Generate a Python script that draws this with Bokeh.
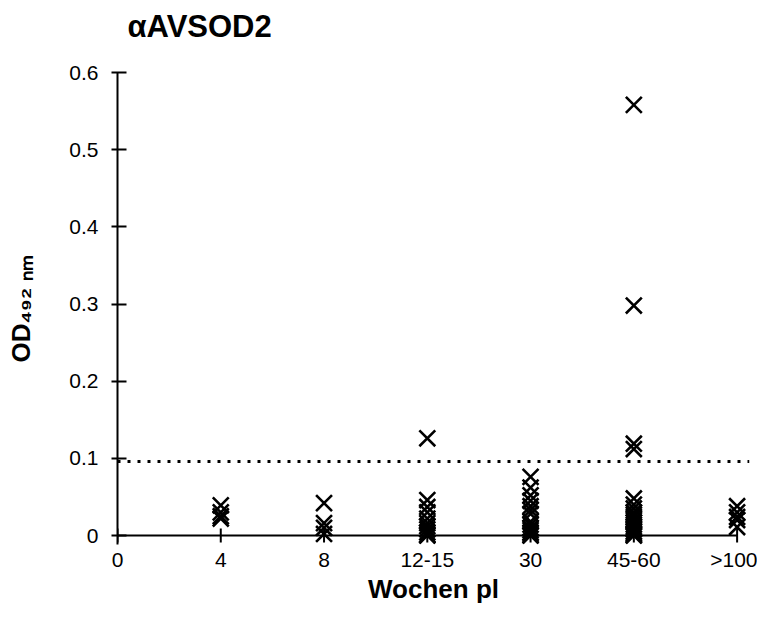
import math
from bokeh.plotting import figure
from bokeh.models import Range1d, FixedTicker, NumeralTickFormatter, Span, Title, ColumnDataSource
from bokeh.embed import file_html
from bokeh.resources import INLINE

# ---- data ----
tick_labels = ["0", "4", "8", "12-15", "30", "45-60", ">100"]
categories = ["4", "8", "12-15", "30", "45-60", ">100"]
w4 = [0.039, 0.030, 0.025, 0.022]
w8 = [0.042, 0.016, 0.010, 0.002]
w12 = [0.126, 0.046, 0.037, 0.030, 0.022, 0.016, 0.012, 0.008, 0.004, 0.001, 0.0]
w30 = [0.076, 0.062, 0.052, 0.045, 0.038, 0.033, 0.028, 0.018, 0.014, 0.010, 0.007, 0.004, 0.002, 0.0]
w45 = [0.558, 0.298, 0.119, 0.112, 0.048, 0.040, 0.035, 0.030, 0.027, 0.024, 0.020,
       0.017, 0.014, 0.011, 0.008, 0.005, 0.003, 0.001, 0.0]
w100 = [0.038, 0.030, 0.024, 0.020, 0.011]
y_ticks = [0, 0.1, 0.2, 0.3, 0.4, 0.5, 0.6]
threshold = 0.096

series = [w4, w8, w12, w30, w45, w100]
xs, ys = [], []
for cat, vals in zip(categories, series):
    pos = tick_labels.index(cat)
    xs += [pos] * len(vals)
    ys += vals
src = ColumnDataSource(dict(x=xs, y=ys))

x_end = len(tick_labels) - 1
p = figure(width=757, height=617, output_backend="svg", toolbar_location=None,
           x_range=Range1d(0, x_end + 0.12), y_range=Range1d(-0.01166, 0.6))
p.min_border_left = 117
p.min_border_right = 8
p.min_border_top = 72
p.min_border_bottom = 73
p.outline_line_color = None
p.grid.visible = False
p.background_fill_color = "white"
p.border_fill_color = "white"

FONT = "Liberation Sans"

# y axis
ya = p.yaxis[0]
ya.ticker = FixedTicker(ticks=y_ticks)
ya.formatter = NumeralTickFormatter(format="0.[0]")
ya.axis_line_width = 2
ya.axis_line_color = "black"
ya.major_tick_line_width = 2
ya.major_tick_in = 9
ya.major_tick_out = 6
ya.minor_tick_line_color = None
ya.major_label_standoff = 13
ya.major_label_text_font = FONT
ya.major_label_text_font_size = "21px"
ya.major_label_text_color = "black"
ya.axis_label = "OD₄₉₂ ₙₘ"
ya.axis_label_text_font = FONT
ya.axis_label_text_font_style = "bold"
ya.axis_label_text_font_size = "26px"
ya.axis_label_text_color = "black"
ya.axis_label_standoff = 30

# x axis (labels only; line and ticks drawn at y=0)
xa = p.xaxis[0]
xa.ticker = FixedTicker(ticks=list(range(len(tick_labels))))
xa.major_label_overrides = {i: t for i, t in enumerate(tick_labels)}
xa.axis_line_color = None
xa.major_tick_line_color = None
xa.major_tick_out = 0
xa.major_tick_in = 0
xa.minor_tick_line_color = None
xa.major_label_standoff = 3
xa.major_label_text_font = FONT
xa.major_label_text_font_size = "21px"
xa.major_label_text_color = "black"
xa.axis_label = "Wochen pl"
xa.axis_label_text_font = FONT
xa.axis_label_text_font_style = "bold"
xa.axis_label_text_font_size = "26px"
xa.axis_label_text_color = "black"
xa.axis_label_standoff = 0

# title: spacer next to the frame, then the title text
p.add_layout(Title(text=" ", text_font_size="10px", standoff=10), "above")
p.add_layout(Title(text="αAVSOD2", align="left", offset=10, standoff=11,
                   text_font=FONT, text_font_style="bold", text_font_size="31px",
                   text_color="black"), "above")

# threshold dotted line
p.add_layout(Span(location=threshold, dimension="width", line_color="black",
                  line_width=3, line_dash="3 7"))

# x axis line and ticks at y=0
p.segment(x0=[0], y0=[0], x1=[x_end], y1=[0], line_color="black", line_width=2)
p.scatter(x=list(range(len(tick_labels))), y=[0] * len(tick_labels), marker="dash",
          angle=math.pi / 2, size=14, line_color="black", line_width=2)

# data markers
p.scatter("x", "y", source=src, marker="x", size=22.5, line_color="black", line_width=2.6)

open("out.html", "w").write(file_html(p, INLINE))
